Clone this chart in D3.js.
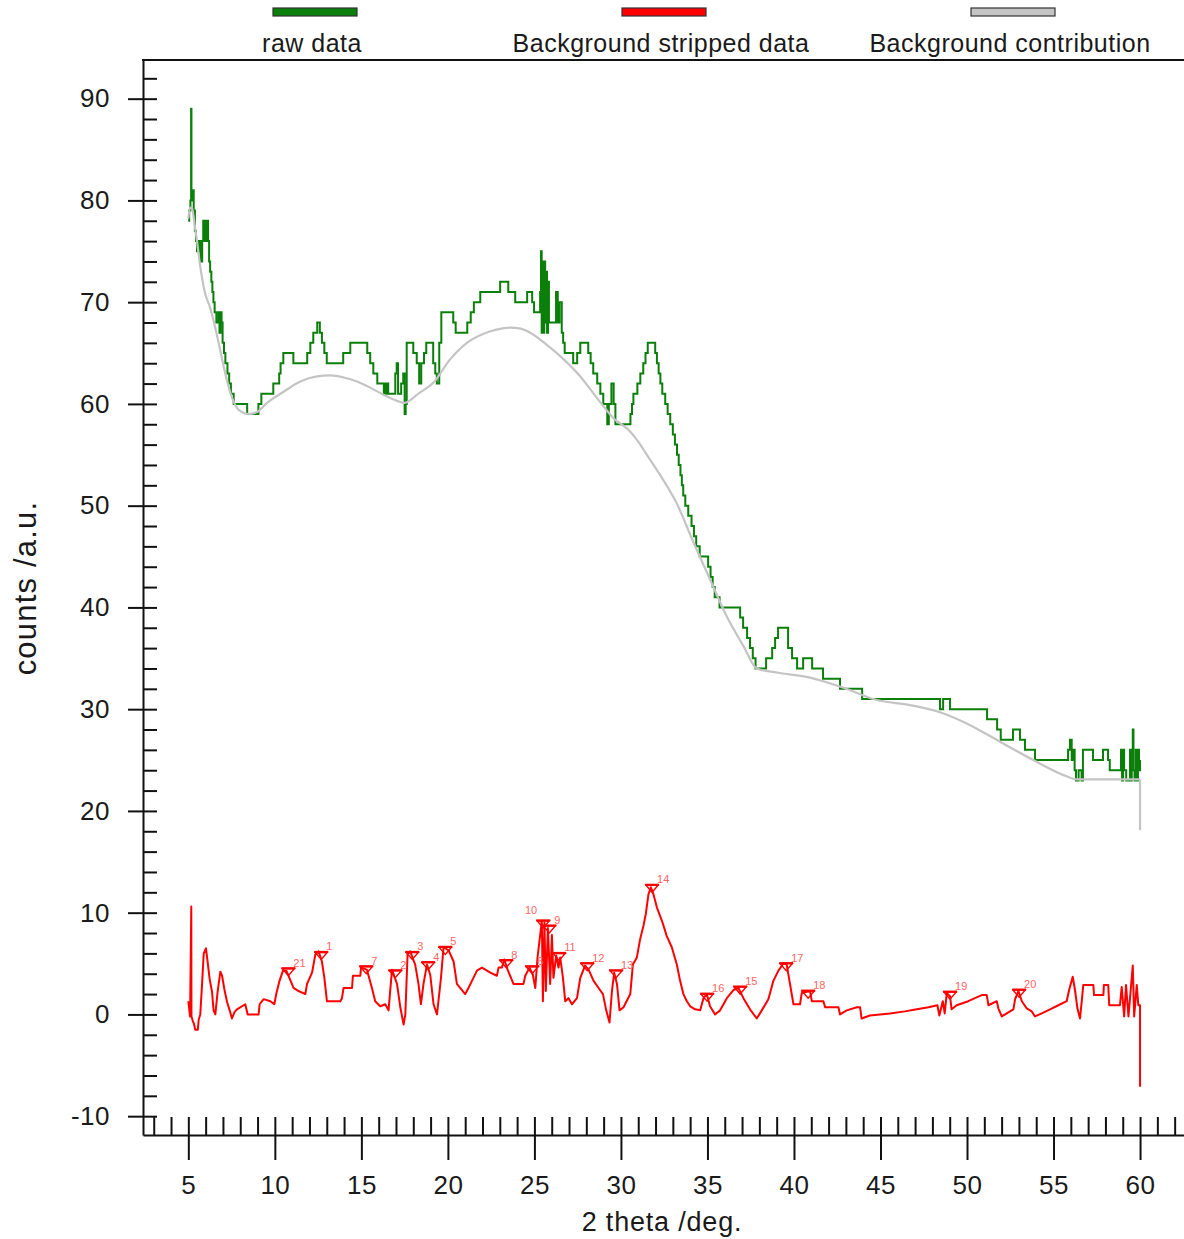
<!DOCTYPE html>
<html>
<head>
<meta charset="utf-8">
<script src="https://cdn.jsdelivr.net/npm/d3@7"></script>
<style>
  html, body { margin: 0; padding: 0; background: #fff; }
  svg { display: block; font-family: "Liberation Sans", Arial, sans-serif; }
</style>
</head>
<body>
<svg id="chart" width="1184" height="1239"></svg>
<script>
// ---- data -------------------------------------------------------------
// Raw diffractogram: step breakpoints [2theta, counts]; each count holds until the next breakpoint.
const rawData = [
  [5.00,78],[5.05,79],[5.12,80],[5.16,89],[5.18,81],[5.22,80],[5.27,81],[5.31,79],[5.38,77],[5.44,76],
  [5.50,75],[5.60,76],[5.70,74],[5.80,76],[5.86,78],[5.91,76],[5.95,78],[5.99,76],[6.03,78],[6.14,76],
  [6.20,74],[6.26,73],[6.33,72],[6.39,71],[6.45,70],[6.52,69],[6.62,68],[6.74,69],[6.80,67],[6.86,69],
  [6.92,68],[6.98,66],[7.06,65],[7.14,64],[7.26,63],[7.36,62],[7.46,61],[7.62,60],[8.40,59],[9.05,60],
  [9.22,61],[9.91,62],[10.25,63],[10.33,64],[10.49,65],[11.07,64],[11.87,65],[12.05,66],[12.22,67],[12.45,68],
  [12.60,67],[12.72,66],[12.86,65],[13.00,64],[13.95,65],[14.36,66],[15.34,65],[15.51,64],[15.69,63],[15.92,62],
  [16.30,61],[16.36,62],[16.42,61],[16.48,62],[16.55,61],[16.96,63],[17.04,64],[17.12,61],[17.30,62],[17.42,63],
  [17.50,59],[17.56,60],[17.62,66],[18.00,65],[18.20,64],[18.34,62],[18.46,64],[18.62,65],[18.75,66],[19.15,64],
  [19.27,63],[19.36,62],[19.50,66],[19.62,69],[20.31,68],[20.45,67],[21.12,68],[21.32,69],[21.50,70],[21.87,71],
  [23.02,72],[23.49,71],[23.89,70],[24.58,71],[24.87,70],[24.98,69],[25.33,71],[25.38,75],[25.42,67],[25.47,74],
  [25.52,67],[25.57,74],[25.62,68],[25.68,73],[25.73,67],[25.79,72],[25.84,68],[26.03,68],[26.25,71],[26.35,68],
  [26.45,70],[26.58,67],[26.66,66],[26.75,65],[27.24,64],[27.47,65],[27.65,66],[28.11,65],[28.25,64],[28.40,63],
  [28.63,62],[28.81,61],[28.98,60],[29.21,58],[29.30,60],[29.45,62],[29.58,60],[29.68,58],[30.55,59],[30.64,60],
  [30.72,61],[30.95,62],[31.12,63],[31.29,64],[31.42,65],[31.55,66],[31.98,65],[32.08,64],[32.18,63],[32.28,62],
  [32.39,61],[32.56,60],[32.70,59],[32.85,58],[33.00,57],[33.12,56],[33.24,55],[33.34,54],[33.44,53],[33.52,52],
  [33.60,51],[33.72,50],[33.89,49],[34.08,48],[34.22,47],[34.35,46],[34.55,45],[35.04,44],[35.18,43],[35.30,42],
  [35.42,41],[35.70,40],[36.89,39],[37.06,38],[37.29,37],[37.46,36],[37.62,35],[37.78,34],[38.39,35],[38.74,36],
  [38.91,37],[39.08,38],[39.66,36],[39.89,35],[40.18,34],[40.53,35],[41.05,34],[41.68,33],[42.66,32],[43.94,31],
  [48.44,30],[48.62,31],[49.02,30],[51.16,29],[51.74,28],[51.95,27],[52.66,28],[53.06,27],[53.35,26],[53.93,25],
  [55.84,26],[55.95,27],[56.05,25],[56.12,26],[56.22,24],[56.30,23],[56.45,24],[56.62,23],[56.70,26],[57.28,25],
  [57.86,26],[58.15,25],[58.25,24],[58.90,26],[58.96,23],[59.02,26],[59.08,24],[59.20,23],[59.42,26],[59.47,23],
  [59.52,26],[59.58,28],[59.62,24],[59.68,23],[59.75,26],[59.82,23],[59.88,26],[59.94,24],[60.00,25]
];

// Fitted background [2theta, counts].
const backgroundData = [
  [5.00,78.2],[5.10,79.3],[5.22,79.2],[5.35,77.8],[5.50,76.0],[5.69,73.5],[5.95,71.0],[6.27,69.4],[6.66,66.7],[7.04,63.7],
  [7.43,61.1],[7.81,59.6],[8.10,59.2],[8.50,59.0],[8.97,59.2],[9.55,60.1],[10.51,61.2],[11.47,62.2],[12.43,62.7],[13.20,62.8],
  [13.97,62.6],[14.75,62.2],[15.51,61.6],[16.28,60.9],[17.06,60.3],[17.50,60.1],[17.85,60.4],[18.21,60.9],[19.17,62.1],[20.14,64.4],
  [21.10,66.0],[22.06,66.9],[22.80,67.3],[23.60,67.5],[24.20,67.4],[24.76,67.0],[25.72,65.8],[26.68,64.4],[27.65,62.7],[28.61,60.6],
  [29.57,58.6],[30.53,57.3],[31.00,56.3],[31.50,55.0],[32.27,53.0],[33.23,50.2],[34.19,46.4],[35.16,42.7],[36.12,39.1],[37.08,36.2],
  [37.85,34.0],[39.01,33.6],[40.93,33.1],[42.86,32.1],[44.79,30.9],[46.71,30.4],[48.44,29.7],[49.98,28.6],[51.91,26.8],[53.83,25.0],
  [55.76,23.4],[56.34,23.1],[60.00,23.1],[60.00,18.1]
];

// Background-stripped pattern [2theta, counts].
const strippedData = [
  [5.00,1.3],[5.10,-0.2],[5.17,10.6],[5.18,-0.2],[5.25,-0.6],[5.32,-0.9],[5.40,-1.5],[5.55,-1.5],[5.60,-0.5],[5.69,0.0],
  [5.79,2.9],[5.89,6.0],[6.02,6.5],[6.12,5.1],[6.23,3.5],[6.37,2.2],[6.46,0.4],[6.56,0.0],[6.69,2.2],[6.85,4.2],
  [6.95,3.8],[7.08,2.5],[7.24,1.2],[7.39,0.4],[7.52,-0.4],[7.66,0.2],[7.81,0.5],[8.29,1.0],[8.43,0.0],[9.06,0.0],
  [9.12,1.0],[9.35,1.5],[9.74,1.3],[9.97,1.0],[10.08,2.0],[10.27,3.3],[10.47,4.3],[10.66,4.3],[10.79,3.8],[11.08,2.6],
  [11.37,2.3],[11.76,2.0],[11.86,3.0],[12.15,4.1],[12.34,5.9],[12.53,6.2],[12.72,5.2],[12.86,3.6],[13.01,1.3],[13.78,1.3],
  [13.88,1.6],[13.97,2.6],[14.46,2.6],[14.51,3.8],[14.94,3.8],[14.98,4.6],[15.32,4.4],[15.61,2.6],[15.80,1.3],[16.09,0.8],
  [16.38,1.0],[16.57,0.4],[16.77,4.4],[17.06,3.0],[17.25,0.7],[17.44,-1.0],[17.54,0.0],[17.67,5.9],[17.82,6.2],[18.11,4.9],
  [18.30,3.0],[18.44,1.0],[18.59,3.0],[18.79,4.9],[18.98,3.9],[19.17,1.0],[19.37,0.0],[19.60,3.6],[19.75,6.6],[20.04,6.3],
  [20.33,5.2],[20.52,3.0],[21.00,2.0],[21.19,2.6],[21.39,3.3],[21.68,4.3],[21.97,4.6],[22.45,4.1],[22.83,3.8],[22.93,4.6],
  [23.12,4.6],[23.26,5.4],[23.45,4.4],[23.79,3.0],[24.37,3.0],[24.47,3.8],[24.72,4.6],[24.91,3.9],[25.05,2.6],[25.18,5.6],
  [25.43,9.2],[25.49,1.3],[25.58,9.0],[25.66,2.3],[25.78,8.5],[25.91,3.0],[26.01,7.8],[26.10,3.6],[26.26,5.8],[26.39,4.6],
  [26.49,5.6],[26.65,3.6],[26.78,1.3],[26.97,1.6],[27.17,1.0],[27.46,1.6],[27.65,3.6],[27.93,4.8],[28.13,4.4],[28.42,3.3],
  [28.71,2.6],[28.96,2.0],[29.15,0.4],[29.34,-0.8],[29.48,2.3],[29.61,4.1],[29.77,3.0],[29.92,0.4],[30.15,0.7],[30.54,2.0],
  [30.69,4.9],[30.92,5.6],[31.11,7.4],[31.30,8.7],[31.44,9.9],[31.59,11.8],[31.73,12.5],[31.88,11.8],[32.08,10.5],[32.37,9.2],
  [32.65,7.7],[32.94,6.6],[33.23,4.9],[33.42,3.3],[33.61,2.0],[33.81,1.3],[34.00,0.8],[34.29,0.5],[34.58,0.4],[34.77,1.6],
  [34.96,2.0],[35.15,0.8],[35.44,0.0],[35.73,0.4],[36.12,1.6],[36.50,2.4],[36.79,2.6],[37.08,1.6],[37.46,0.5],[37.85,-0.4],
  [38.14,0.4],[38.52,1.5],[38.81,3.3],[39.10,4.3],[39.39,5.0],[39.58,4.9],[39.77,3.0],[39.97,1.0],[40.35,1.0],[40.45,2.1],
  [40.93,2.3],[41.03,1.3],[41.70,1.3],[41.80,0.7],[42.57,0.7],[42.66,0.0],[43.05,0.4],[43.63,0.7],[43.82,0.7],[43.91,-0.4],
  [44.39,-0.1],[45.55,0.1],[46.41,0.3],[47.10,0.5],[47.77,0.7],[48.29,0.9],[48.40,-0.1],[48.60,1.3],[48.71,0.1],[48.83,2.1],
  [49.02,1.8],[49.11,0.5],[49.40,0.9],[50.07,1.3],[50.46,1.6],[50.85,1.9],[51.14,1.9],[51.24,0.9],[51.72,1.3],[51.81,0.6],
  [52.01,-0.2],[52.30,0.1],[52.68,0.5],[52.78,1.5],[52.97,2.3],[53.17,1.3],[53.45,0.6],[53.74,0.3],[53.93,-0.2],[54.32,0.1],
  [54.80,0.5],[55.28,0.9],[55.76,1.3],[55.90,2.4],[56.11,3.7],[56.24,2.4],[56.38,0.6],[56.53,-0.4],[56.66,1.8],[56.72,2.9],
  [57.30,2.9],[57.34,1.9],[57.88,1.9],[57.91,2.9],[58.16,2.9],[58.22,0.9],[58.84,0.9],[58.94,2.7],[59.08,-0.2],[59.19,2.9],
  [59.33,-0.2],[59.58,4.8],[59.66,-0.2],[59.81,2.9],[59.90,0.9],[60.00,0.9],[60.00,-7.1]
];

// Peaks found in the stripped pattern.
const peakLabels = ["21","1","7","2","3","4","5","8","6","10","9","11","12","13","14","16","15","17","18","19","20"];
const peakTheta  = [10.78,12.68,15.28,16.96,17.94,18.86,19.85,23.37,24.87,25.51,25.86,26.43,28.05,29.72,31.80,34.98,36.89,39.55,40.82,49.02,53.01];
const peakCounts = [3.8,5.4,4.0,3.6,5.4,4.4,5.9,4.6,4.0,8.5,8.0,5.3,4.3,3.6,12.0,1.3,2.0,4.3,1.6,1.5,1.7];

const seriesNames  = ["raw data", "Background stripped data", "Background contribution"];
const seriesColors = ["#0a7f0a", "#ff0000", "#c4c4c4"];

const xTickValues = [5,10,15,20,25,30,35,40,45,50,55,60];
const yTickValues = [-10,0,10,20,30,40,50,60,70,80,90];
const xTitle = "2 theta /deg.";
const yTitle = "counts /a.u.";

// ---- layout -----------------------------------------------------------
const svg = d3.select("#chart");
const plot = { left: 143, top: 60, right: 1184, bottom: 1135 };

const x = d3.scaleLinear().domain([2.38, 62.54]).range([plot.left, plot.right]);
const y = d3.scaleLinear().domain([-11.85, 93.8]).range([plot.bottom, plot.top]);

svg.append("defs").append("clipPath").attr("id", "plotClip")
  .append("rect")
  .attr("x", plot.left + 1).attr("y", plot.top + 1)
  .attr("width", plot.right - plot.left).attr("height", plot.bottom - plot.top - 1);

// ---- axes ---------------------------------------------------------------
const ink = "#111";
const plainNumber = d => String(d);   // ASCII hyphen for negatives
function styleAxis(g) {
  g.selectAll(".domain").attr("stroke", ink).attr("stroke-width", 2);
  g.selectAll(".tick line").attr("stroke", ink).attr("stroke-width", 2);
  g.selectAll("text").attr("fill", "#1a1a1a").attr("font-size", 26).attr("letter-spacing", 0.5);
}

// x: minor ticks every degree pointing up, majors crossing down with labels
svg.append("g")
  .attr("transform", `translate(0,${plot.bottom})`)
  .call(d3.axisTop(x).tickValues(d3.range(3, 63, 1)).tickSize(18).tickSizeOuter(0).tickFormat(""))
  .call(styleAxis);
svg.append("g")
  .attr("transform", `translate(0,${plot.bottom})`)
  .call(d3.axisBottom(x).tickValues(xTickValues).tickSize(25).tickPadding(16).tickSizeOuter(0).tickFormat(plainNumber))
  .call(g => g.select(".domain").remove())
  .call(styleAxis);

// y: minor ticks every 2 counts pointing right, majors crossing left with labels
svg.append("g")
  .attr("transform", `translate(${plot.left},0)`)
  .call(d3.axisRight(y).tickValues(d3.range(-10, 94, 2)).tickSize(14).tickSizeOuter(0).tickFormat(""))
  .call(styleAxis);
svg.append("g")
  .attr("transform", `translate(${plot.left},0)`)
  .call(d3.axisLeft(y).tickValues(yTickValues).tickSize(15).tickPadding(18).tickSizeOuter(0).tickFormat(plainNumber))
  .call(g => g.select(".domain").remove())
  .call(styleAxis);

// top frame line
svg.append("line")
  .attr("x1", plot.left - 1).attr("x2", plot.right)
  .attr("y1", plot.top).attr("y2", plot.top)
  .attr("stroke", ink).attr("stroke-width", 2);

// axis titles
svg.append("text")
  .attr("x", 662).attr("y", 1231)
  .attr("text-anchor", "middle")
  .attr("font-size", 27).attr("letter-spacing", 0.8).attr("fill", "#1a1a1a")
  .text(xTitle);
svg.append("text")
  .attr("transform", `translate(36,588) rotate(-90)`)
  .attr("text-anchor", "middle")
  .attr("font-size", 31).attr("letter-spacing", 1.2).attr("fill", "#1a1a1a")
  .text(yTitle);

// ---- series -----------------------------------------------------------
const layer = svg.append("g").attr("clip-path", "url(#plotClip)");

const rawLine = d3.line().x(d => x(d[0])).y(d => y(d[1])).curve(d3.curveStepAfter);
const strippedLine = d3.line().x(d => x(d[0])).y(d => y(d[1]));
const bgSmooth = d3.line().x(d => x(d[0])).y(d => y(d[1])).curve(d3.curveMonotoneX);
const bgStraight = d3.line().x(d => x(d[0])).y(d => y(d[1]));

layer.append("path")
  .datum(rawData)
  .attr("d", rawLine)
  .attr("fill", "none").attr("stroke", seriesColors[0]).attr("stroke-width", 2);

layer.append("path")
  .datum(strippedData)
  .attr("d", strippedLine)
  .attr("fill", "none").attr("stroke", seriesColors[1]).attr("stroke-width", 2)
  .attr("stroke-linejoin", "round");

// background: smooth curve, then the final vertical drop at the end of the scan
const bgCurve = backgroundData.slice(0, backgroundData.length - 1);
const bgTail = backgroundData.slice(backgroundData.length - 2);
layer.append("path")
  .datum(bgCurve)
  .attr("d", bgSmooth)
  .attr("fill", "none").attr("stroke", seriesColors[2]).attr("stroke-width", 2.2);
layer.append("path")
  .datum(bgTail)
  .attr("d", bgStraight)
  .attr("fill", "none").attr("stroke", seriesColors[2]).attr("stroke-width", 2.2);

// ---- peak markers -----------------------------------------------------
const peaks = peakLabels.map((id, i) => ({ id, t: peakTheta[i], v: peakCounts[i] }));
const labelOnLeft = new Set(["10"]);
const pk = layer.selectAll("g.peak").data(peaks).join("g")
  .attr("class", "peak")
  .attr("transform", d => `translate(${x(d.t)},${y(d.v)})`);
pk.append("path")
  .attr("d", "M-6,-7L6,-7L0,0Z")
  .attr("fill", "none").attr("stroke", "#ff0000").attr("stroke-width", 1.4);
pk.append("line")
  .attr("x1", -7).attr("x2", 7).attr("y1", -7.5).attr("y2", -7.5)
  .attr("stroke", "#ff0000").attr("stroke-width", 2.2);
pk.append("text")
  .attr("x", d => labelOnLeft.has(d.id) ? -6 : 5)
  .attr("y", d => labelOnLeft.has(d.id) ? -14 : -9)
  .attr("text-anchor", d => labelOnLeft.has(d.id) ? "end" : "start")
  .attr("font-size", 11).attr("fill", "#ff6464")
  .text(d => d.id);

// ---- legend -----------------------------------------------------------
const legendCenters = [315, 664, 1013];
const lg = svg.selectAll("g.legend").data(seriesNames).join("g")
  .attr("class", "legend")
  .attr("transform", (d, i) => `translate(${legendCenters[i]},0)`);
lg.append("rect")
  .attr("x", -42).attr("y", 8).attr("width", 84).attr("height", 8)
  .attr("fill", (d, i) => seriesColors[i])
  .attr("stroke", "#333").attr("stroke-width", 1.2);
lg.append("text")
  .attr("x", -3).attr("y", 52)
  .attr("text-anchor", "middle")
  .attr("font-size", 25).attr("letter-spacing", 0.5).attr("fill", "#1a1a1a")
  .text(d => d);
</script>
</body>
</html>
